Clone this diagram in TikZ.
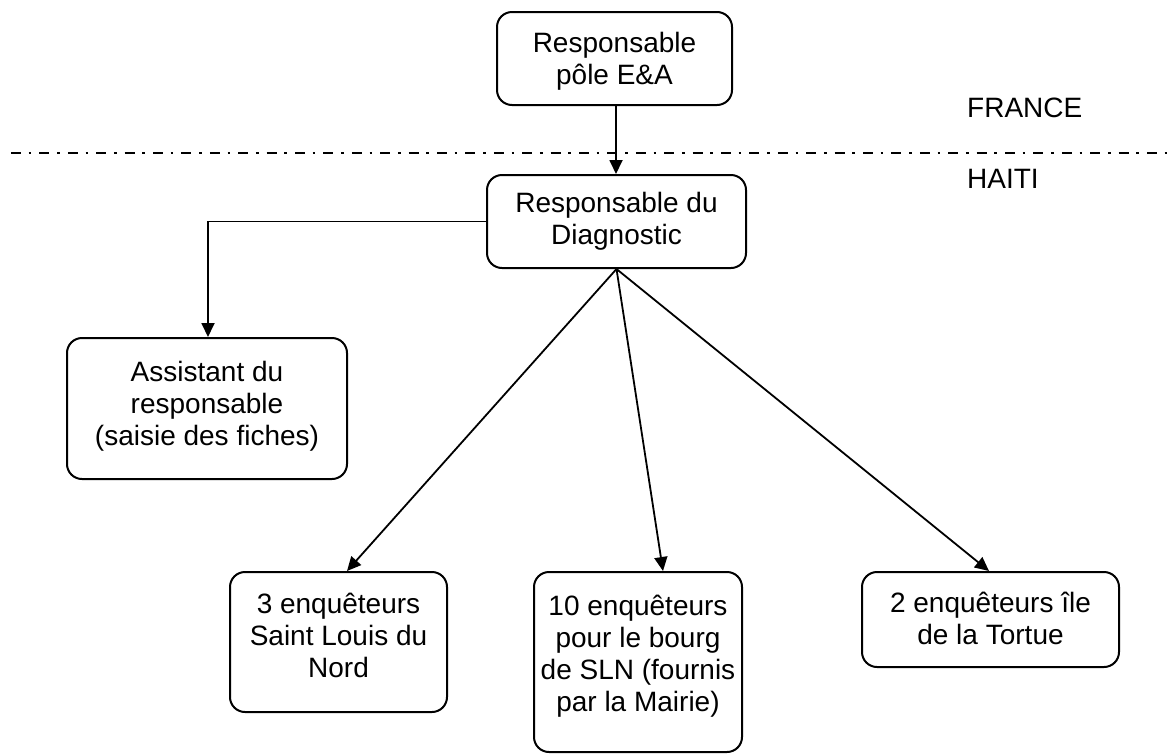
\documentclass[tikz,border=0pt]{standalone}
\usepackage{fontspec}
\setmainfont{Liberation Sans}
\usetikzlibrary{arrows.meta,calc}
\begin{document}
\begin{tikzpicture}[x=1pt,y=-1pt,
  box/.style={draw, line width=2pt, rounded corners=15pt, inner sep=0pt},
  txt/.style={align=center, font=\fontsize{28}{32.2}\selectfont, inner sep=0pt, anchor=base},
  conn/.style={line width=1.8pt, -{Triangle[length=14pt,width=13pt]}},
  sep/.style={line width=2.8pt, dash pattern=on 10pt off 7.7pt on 2.7pt off 8pt}
]
\useasboundingbox (0,0) rectangle (1167,753);
% separator
\coordinate (sl) at (11,153);
\coordinate (sr) at (1167,153);
\draw[sep] (sl) -- (sr);
\node[txt, anchor=base west] (fr) at (967,117) {FRANCE};
\node[txt, anchor=base west] (ha) at (967,188) {HAITI};
% boxes
\node[box, minimum width=235pt, minimum height=93pt] (top) at (614.5,58.5) {};
\node[box, minimum width=259pt, minimum height=93pt] (diag) at (616.5,221.5) {};
\node[box, minimum width=280pt, minimum height=141pt] (asst) at (207,408.5) {};
\node[box, minimum width=217pt, minimum height=140pt] (b1) at (338.5,642) {};
\node[box, minimum width=208pt, minimum height=180pt] (b2) at (638,662) {};
\node[box, minimum width=257pt, minimum height=95pt] (b3) at (990.5,619.5) {};
% texts (base anchor = baseline of the last line)
\node[txt] (ttop) at ($(top.north)+(0,73.2)$) {Responsable\\pôle E\&A};
\node[txt] (tdiag) at ($(diag.north)+(0,70.2)$) {Responsable du\\Diagnostic};
\node[txt] (tasst) at ($(asst.north)+(0,108.4)$) {Assistant du\\responsable\\(saisie des fiches)};
\node[txt] (tb1) at ($(b1.north)+(0,106.4)$) {3 enquêteurs\\Saint Louis du\\Nord};
\node[txt] (tb2) at ($(b2.north)+(0,140.6)$) {10 enquêteurs\\pour le bourg\\de SLN (fournis\\par la Mairie)};
\node[txt] (tb3) at ($(b3.north)+(0,73.2)$) {2 enquêteurs île\\de la Tortue};
% connectors
\draw[conn] ([xshift=1.5pt]top.south) -- ([xshift=-0.5pt]diag.north);
\draw[conn] (diag.west) -| ([xshift=1pt]asst.north);
\draw[conn] (diag.south) -- ([xshift=8.5pt]b1.north);
\draw[conn] (diag.south) -- ([xshift=25pt]b2.north);
\draw[conn] (diag.south) -- ([xshift=-1.5pt]b3.north);
\end{tikzpicture}
\end{document}
